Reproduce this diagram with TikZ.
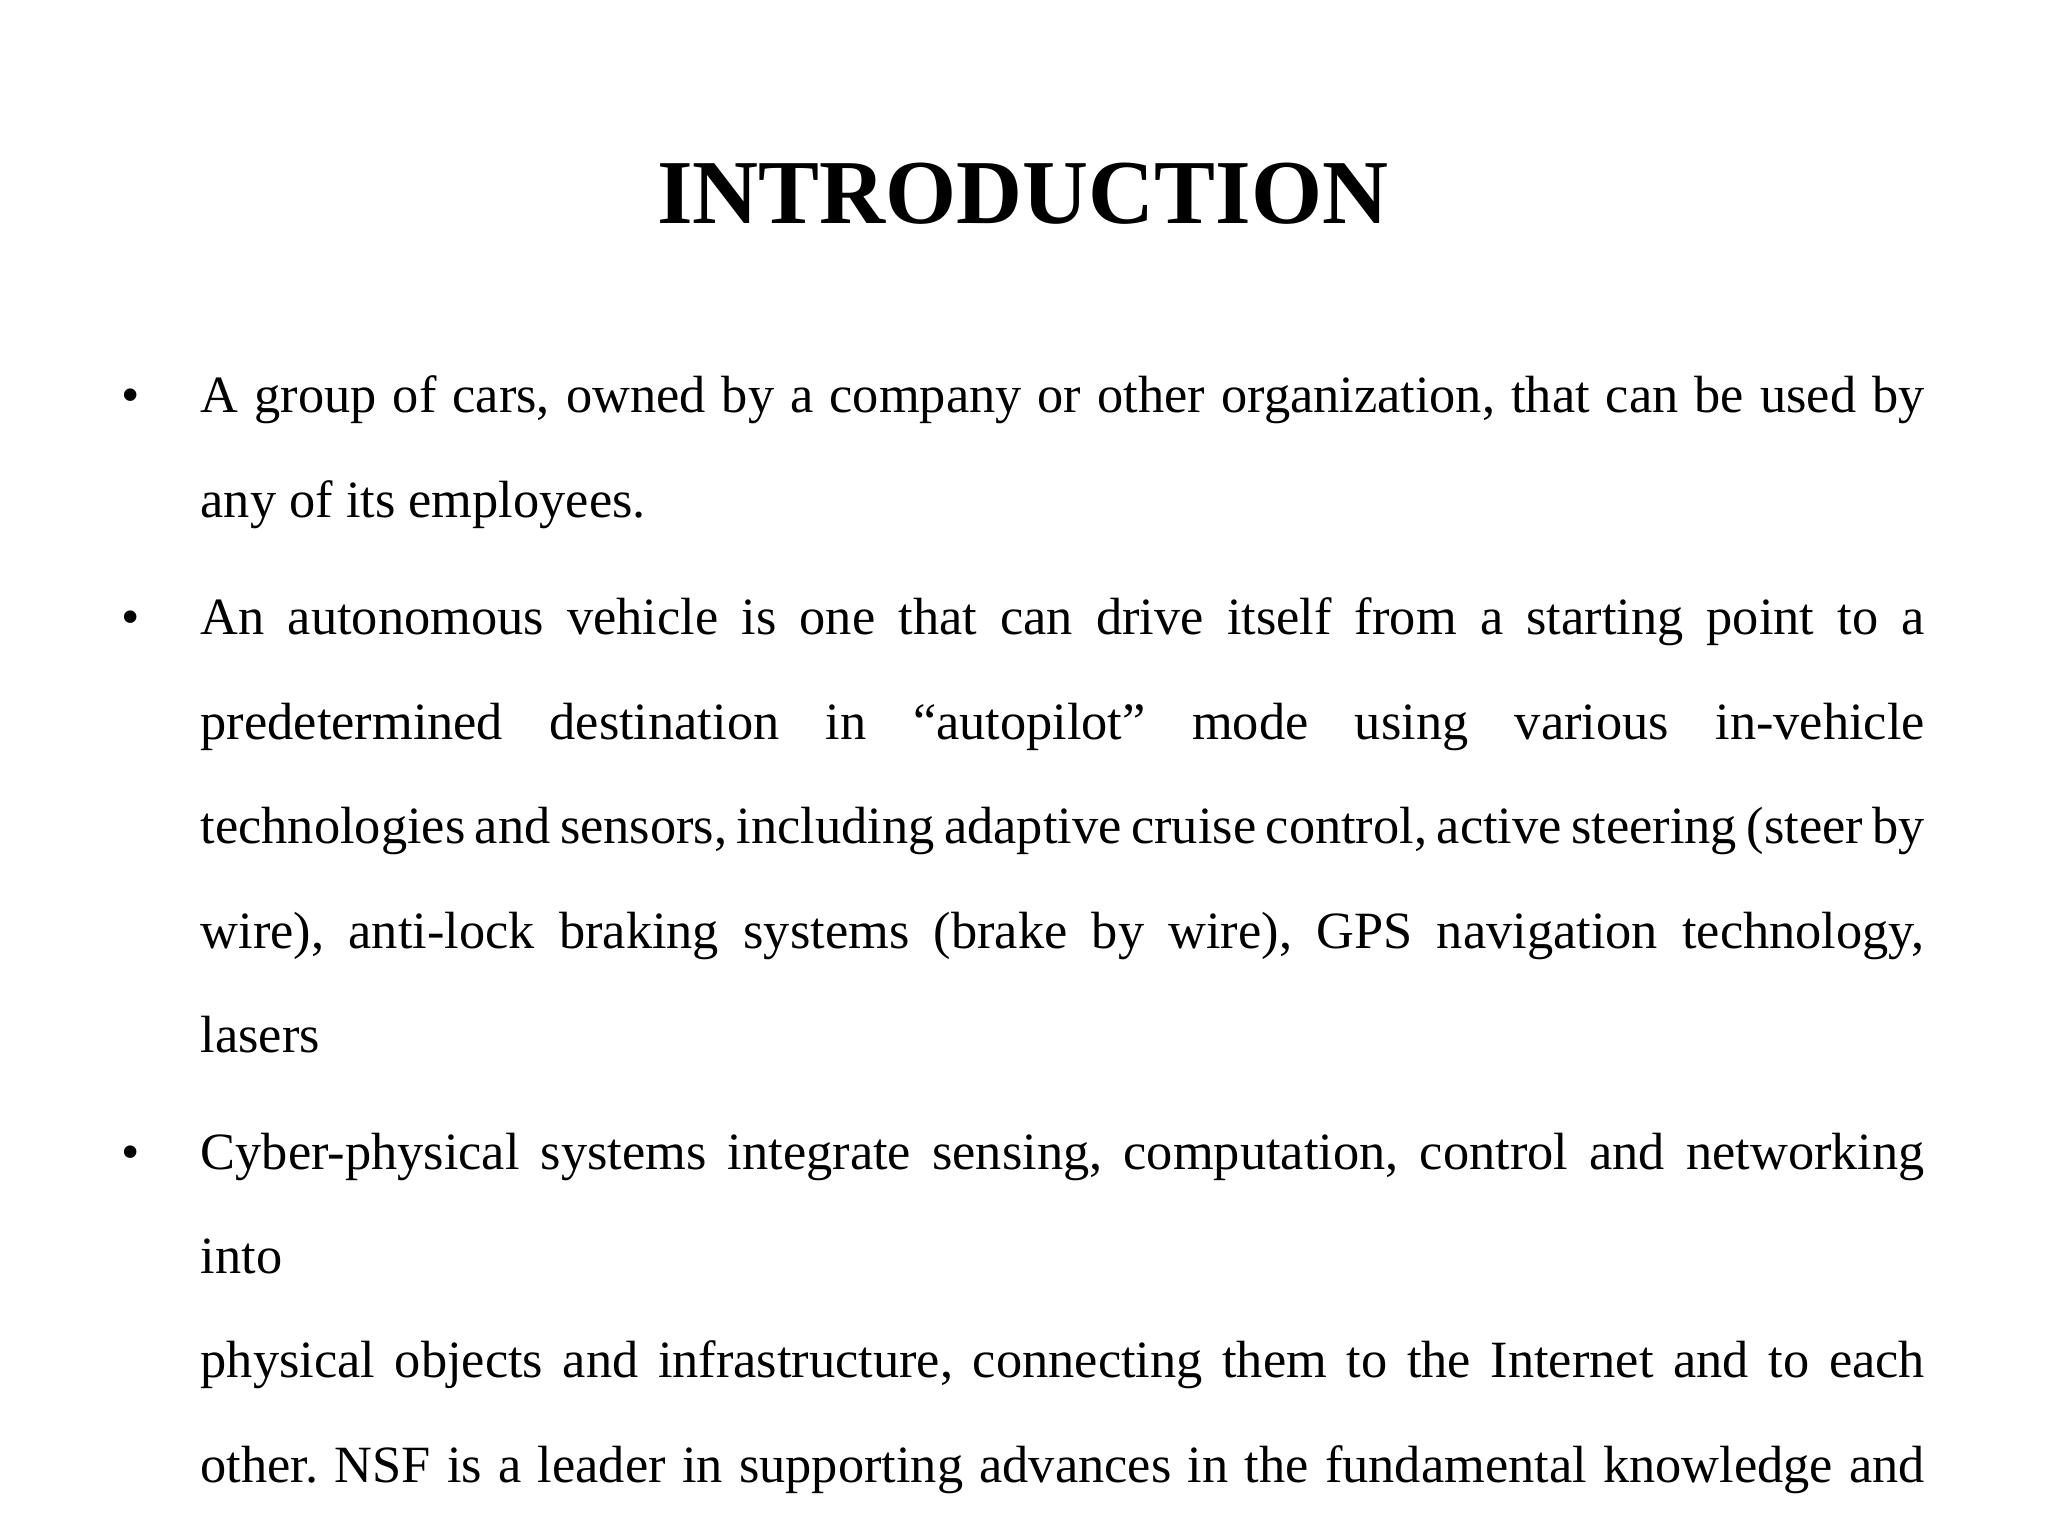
\documentclass[tikz,border=0pt]{standalone}
\usepackage{fontspec}
\setmainfont{Liberation Serif}
\newcommand{\nohyph}{\hyphenpenalty=10000 \exhyphenpenalty=10000 \frenchspacing}
\begin{document}
\begin{tikzpicture}
\tikzset{para/.style={anchor=base west,inner sep=0pt,text width=17.24cm,align=justify,font=\fontsize{14.9}{29.7}\selectfont},
 bul/.style={anchor=base,inner sep=0pt,font=\fontsize{14.9}{29.7}\selectfont}}
\useasboundingbox (0,0) rectangle (20.48,-15.36);
\node[anchor=base,font=\bfseries\fontsize{26}{30}\selectfont] (title) at (10.23,-2.24) {INTRODUCTION};
\node[bul] (b1) at (1.31,-4.13) {•};
\node[para] (p1) at (2.0,-4.13) {\nohyph A group of cars, owned by a company or other organization, that can be used by\linebreak any of its employees.};
\node[bul] (b2) at (1.31,-6.35) {•};
\node[para] (p2) at (2.0,-6.35) {\nohyph An autonomous vehicle is one that can drive itself from a starting point to a\linebreak predetermined destination in “autopilot” mode using various in-vehicle\linebreak technologies and sensors, including adaptive cruise control, active steering (steer by\linebreak wire), anti-lock braking systems (brake by wire), GPS navigation technology,\linebreak lasers};
\node[bul] (b3) at (1.31,-11.69) {•};
\node[para] (p3) at (2.0,-11.69) {\nohyph Cyber-physical systems integrate sensing, computation, control and networking into\linebreak physical objects and infrastructure, connecting them to the Internet and to each\linebreak other. NSF is a leader in supporting advances in the fundamental knowledge and\linebreak tools to make cyber-physical systems a reality.};
\end{tikzpicture}
\end{document}
